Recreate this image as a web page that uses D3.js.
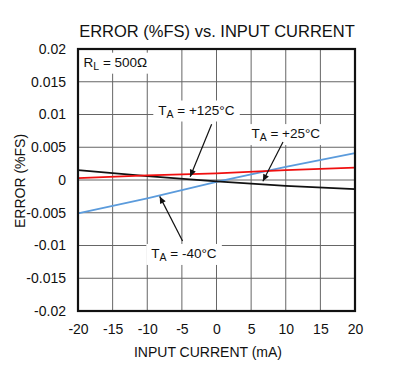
<!DOCTYPE html>
<html>
<head>
<meta charset="utf-8">
<script src="https://cdn.jsdelivr.net/npm/d3@7"></script>
<style>
  body { margin: 0; background: #fff; }
  text { font-family: "Liberation Sans", Arial, sans-serif; fill: #111; }
</style>
</head>
<body>
<div id="chart"></div>
<script>
// input current (mA) where each curve was read
var current = [-20, -10, 0, 10, 20];
// error (%FS) per temperature
var err125 = [0.0003, 0.0007, 0.0010, 0.0015, 0.0019];
var err25 = [0.0015, 0.0006, -0.0002, -0.0009, -0.0014];
var errM40 = [-0.0051, -0.0028, -0.0003, 0.0020, 0.0041];

var xTicks = [-20, -15, -10, -5, 0, 5, 10, 15, 20];
var xTickLabels = ["-20", "-15", "-10", "-5", "0", "5", "10", "15", "20"];
var yTicks = [0.02, 0.015, 0.01, 0.005, 0, -0.005, -0.01, -0.015, -0.02];
var yTickLabels = ["0.02", "0.015", "0.01", "0.005", "0", "-0.005", "-0.01", "-0.015", "-0.02"];

var W = 400, H = 372;
var margin = {top: 49, right: 45, bottom: 61, left: 78};
var w = W - margin.left - margin.right;
var h = H - margin.top - margin.bottom;

var svg = d3.select("#chart").append("svg")
  .attr("width", W).attr("height", H);

var x = d3.scaleLinear().domain([-20, 20]).range([0, w]);
var y = d3.scaleLinear().domain([-0.02, 0.02]).range([h, 0]);

svg.append("defs").append("marker")
  .attr("id", "arrow")
  .attr("viewBox", "0 0 10 10")
  .attr("refX", 10).attr("refY", 5)
  .attr("markerWidth", 12).attr("markerHeight", 7)
  .attr("markerUnits", "userSpaceOnUse")
  .attr("orient", "auto")
  .append("path").attr("d", "M0,0.5 L10,5 L0,9.5 Z").attr("fill", "#111");

svg.append("text")
  .attr("x", 217).attr("y", 37)
  .attr("text-anchor", "middle")
  .style("font-size", "16.5px")
  .text("ERROR (%FS) vs. INPUT CURRENT");

var g = svg.append("g").attr("transform", "translate(" + margin.left + "," + margin.top + ")");

// grid
g.selectAll(".vgrid").data(xTicks).enter().append("line")
  .attr("x1", function(d) { return x(d); }).attr("x2", function(d) { return x(d); })
  .attr("y1", 0).attr("y2", h)
  .attr("stroke", "#666").attr("stroke-width", 1);
g.selectAll(".hgrid").data(yTicks).enter().append("line")
  .attr("y1", function(d) { return y(d); }).attr("y2", function(d) { return y(d); })
  .attr("x1", 0).attr("x2", w)
  .attr("stroke", "#666").attr("stroke-width", 1);

// axes (labels only)
var xAxis = g.append("g").attr("transform", "translate(0," + h + ")")
  .call(d3.axisBottom(x).tickValues(xTicks).tickSize(0).tickPadding(13)
    .tickFormat(function(d, i) { return xTickLabels[i]; }));
var yAxis = g.append("g")
  .call(d3.axisLeft(y).tickValues(yTicks).tickSize(0).tickPadding(12)
    .tickFormat(function(d, i) { return yTickLabels[i]; }));
[xAxis, yAxis].forEach(function(a) {
  a.select(".domain").remove();
  a.selectAll("text").style("font-size", "14px").style("font-family", "Liberation Sans, Arial, sans-serif").attr("fill", "#111");
});

// annotation backgrounds sit under the curves
var bgLayer = g.append("g");

// curves
var line = d3.line()
  .x(function(d) { return x(d[0]); })
  .y(function(d) { return y(d[1]); });
var series = [
  {vals: errM40, color: "#5b9bdc"},
  {vals: err25, color: "#111"},
  {vals: err125, color: "#f01010"}
];
series.forEach(function(s) {
  g.append("path")
    .datum(current.map(function(c, i) { return [c, s.vals[i]]; }))
    .attr("d", line)
    .attr("fill", "none")
    .attr("stroke", s.color)
    .attr("stroke-width", 1.8);
});

// frame
g.append("rect").attr("width", w).attr("height", h)
  .attr("fill", "none").attr("stroke", "#111").attr("stroke-width", 2.2);

// annotations, positioned in data units
var labels = [
  {sub: "L", pre: "R", post: " = 500\u03A9", cx: -19.2, cy: 0.0173, anchor: "start"},
  {sub: "A", pre: "T", post: " = +125\u00B0C", cx: -2.9, cy: 0.0100, anchor: "middle",
   from: [-0.7, 0.0085], to: [-3.8, 0.0005]},
  {sub: "A", pre: "T", post: " = +25\u00B0C", cx: 10.0, cy: 0.0064, anchor: "middle",
   from: [9.6, 0.0058], to: [6.7, -0.0002]},
  {sub: "A", pre: "T", post: " = -40\u00B0C", cx: -4.7, cy: -0.0119, anchor: "middle",
   from: [-4.9, -0.0093], to: [-8.2, -0.0025]}
];
var annLayer = g.append("g");
labels.forEach(function(l) {
  var t = annLayer.append("text")
    .attr("x", x(l.cx)).attr("y", y(l.cy))
    .attr("text-anchor", l.anchor)
    .style("font-size", "13.5px");
  t.append("tspan").text(l.pre);
  t.append("tspan").attr("dy", 3).style("font-size", "10.5px").text(l.sub);
  t.append("tspan").attr("dy", -3).text(l.post.replace(" = ", "\u00A0=\u00A0"));
  var bb = t.node().getBBox();
  bgLayer.append("rect")
    .attr("x", bb.x - 5).attr("y", bb.y - 2)
    .attr("width", bb.width + 10).attr("height", bb.height + 4)
    .attr("fill", "#fff");
  if (l.from) {
    annLayer.append("line")
      .attr("x1", x(l.from[0])).attr("y1", y(l.from[1]))
      .attr("x2", x(l.to[0])).attr("y2", y(l.to[1]))
      .attr("stroke", "#111").attr("stroke-width", 1.2)
      .attr("marker-end", "url(#arrow)");
  }
});

// axis titles
svg.append("text")
  .attr("x", 208).attr("y", 357)
  .attr("text-anchor", "middle")
  .style("font-size", "14px")
  .text("INPUT CURRENT (mA)");
svg.append("text")
  .attr("transform", "translate(25,181) rotate(-90)")
  .attr("text-anchor", "middle")
  .style("font-size", "14px")
  .text("ERROR (%FS)");
</script>
</body>
</html>
